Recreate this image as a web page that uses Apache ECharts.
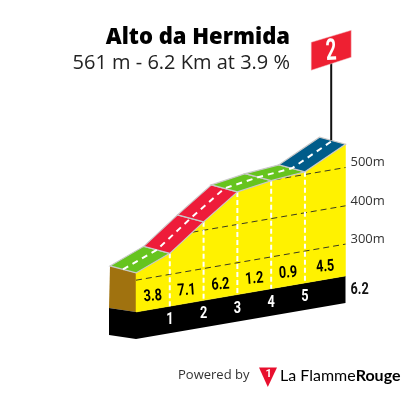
<!DOCTYPE html>
<html><head><meta charset="utf-8">
<style>html,body{margin:0;padding:0;background:#fff}#c{width:405px;height:393px}</style>
<script src="https://cdn.jsdelivr.net/npm/echarts@6/dist/echarts.min.js"></script>
</head><body><div id="c"></div>
<script>
// ---- data ----
const climbName = 'Alto da Hermida';
const climbStats = '561 m - 6.2 Km at 3.9 %';
const kmMarks = [0, 1, 2, 3, 4, 5, 6.2];
const elevations = [319, 355, 422, 485, 499, 507, 561];
const gradients = [3.8, 7.1, 6.2, 1.2, 0.9, 4.5];
const roadColors = ['#66c41e', '#ee1c3a', '#ee1c3a', '#66c41e', '#66c41e', '#005c8a'];
const gridElevations = [300, 400, 500];
const gridLabels = ['300m', '400m', '500m'];
const kmLabels = ['1', '2', '3', '4', '5'];
const totalLabel = '6.2';
const categoryLabel = '2';

// ---- projection ----
const BASE = 217;          // elevation of the yellow base at km 0
const SHEAR = 15.2;        // metres of apparent rise per km (oblique view)
const DEPTH = [-26, -7];   // road depth in px
const SIDE_DEPTH = [-27, -4];
const BAND = 27;           // black band height in px
const COND = 'bold 16.5px Roboto,sans-serif';
const COND_SX = 0.77;
const OPEN = '"Open Sans","Noto Sans",sans-serif';

const P = (api, km, el) => api.coord([km, el + km * SHEAR]);
const firstKmAbove = el => {
  if (elevations[0] >= el) return 0;
  for (let i = 0; i < kmMarks.length - 1; i++) {
    if (elevations[i + 1] >= el) {
      return kmMarks[i] + (el - elevations[i]) / (elevations[i + 1] - elevations[i]) * (kmMarks[i + 1] - kmMarks[i]);
    }
  }
  return kmMarks[kmMarks.length - 1];
};
const off = (p, d, f) => [p[0] + d[0] * (f === undefined ? 1 : f), p[1] + d[1] * (f === undefined ? 1 : f)];
const last = kmMarks.length - 1;

const segments = gradients.map((g, i) => [kmMarks[i], kmMarks[i + 1], elevations[i], elevations[i + 1], g, i]);

const noSilent = { animation: false, silent: true, coordinateSystem: 'cartesian2d' };

const condText = (x, y, text, fill, align, rotation) => ({
  type: 'text', x, y, rotation: rotation || 0, scaleX: COND_SX,
  style: { x: 0, y: 0, text, font: COND, fill, align: align || 'center', verticalAlign: 'middle' }
});

const option = {
  animation: false,
  title: [
    { text: climbName, right: 115, top: 23, padding: 0, textStyle: { fontFamily: OPEN, fontWeight: 800, fontSize: 22, color: '#000', lineHeight: 30 } },
    { text: climbStats, right: 115, top: 50, padding: 0, textStyle: { fontFamily: OPEN, fontWeight: 400, fontSize: 20, color: '#222', lineHeight: 26 } }
  ],
  grid: { left: 136, top: 145, width: 209.5, height: 167 },
  xAxis: { type: 'value', min: 0, max: 6.2, show: false },
  yAxis: { type: 'value', min: BASE, max: 653, show: false },
  series: [
    // side wall and black base
    { ...noSilent, type: 'custom', z: 1, data: [[0, elevations[0], kmMarks[last]]],
      renderItem(params, api) {
        const tl = P(api, 0, elevations[0]), bl = P(api, 0, BASE), br = P(api, kmMarks[last], BASE);
        const tb = off(tl, DEPTH), bb = off(bl, SIDE_DEPTH);
        return { type: 'group', children: [
          { type: 'polygon', shape: { points: [tb, tl, bl, bb] }, style: { fill: '#a0720f' } },
          { type: 'polygon', shape: { points: [bb, bl, br, [br[0], br[1] + BAND], [bl[0], bl[1] + BAND], [bb[0], bb[1] + BAND]] }, style: { fill: '#000' } }
        ] };
      } },
    // yellow body per segment
    { ...noSilent, type: 'custom', z: 2, data: segments,
      renderItem(params, api) {
        const a = api.value(0), b = api.value(1), ea = api.value(2), eb = api.value(3);
        return { type: 'polygon', shape: { points: [P(api, a, ea), P(api, b, eb), P(api, b, BASE), P(api, a, BASE)] }, style: { fill: '#fff200', stroke: '#fff200', lineWidth: 0.5 } };
      } },
    // elevation gridlines
    { ...noSilent, type: 'custom', z: 3, data: gridElevations.map((e, i) => [e, i]),
      renderItem(params, api) {
        const e = api.value(0), s = P(api, firstKmAbove(e), e), t = P(api, kmMarks[last], e);
        return { type: 'group', children: [
          { type: 'line', shape: { x1: s[0], y1: s[1], x2: t[0], y2: t[1] }, style: { stroke: '#3a3a20', lineWidth: 1, lineDash: [6, 4] } },
          { type: 'text', style: { x: t[0] + 5, y: t[1] - 5, text: gridLabels[api.value(1)], font: '13px ' + OPEN, fill: '#333', align: 'left', verticalAlign: 'middle' } }
        ] };
      } },
    // km separators and km labels
    { ...noSilent, type: 'custom', z: 4, data: kmLabels.map((l, i) => [kmMarks[i + 1], elevations[i + 1], i]),
      renderItem(params, api) {
        const k = api.value(0), top = P(api, k, api.value(1)), g = P(api, k, BASE);
        return { type: 'group', children: [
          { type: 'line', shape: { x1: top[0], y1: top[1], x2: g[0], y2: g[1] }, style: { stroke: '#fff', lineWidth: 2, lineDash: [5, 3] } },
          condText(g[0], g[1] + 14, kmLabels[api.value(2)], '#fff')
        ] };
      } },
    // gradient labels
    { ...noSilent, type: 'custom', z: 5, data: segments,
      renderItem(params, api) {
        const m = (api.value(0) + api.value(1)) / 2, g = P(api, m, BASE);
        return condText(g[0], g[1] - 12.5, api.value(4).toFixed(1), '#000', 'center', 0.07);
      } },
    // road tiles
    { ...noSilent, type: 'custom', z: 6, data: segments,
      renderItem(params, api) {
        const a = P(api, api.value(0), api.value(2)), b = P(api, api.value(1), api.value(3));
        return { type: 'polygon', shape: { points: [off(a, DEPTH), off(b, DEPTH), b, a] }, style: { fill: roadColors[api.value(5)], stroke: '#c9c9c9', lineWidth: 1.2 } };
      } },
    // road centre line, flag and total length
    { ...noSilent, type: 'custom', z: 7, data: [[kmMarks[last], elevations[last]]],
      renderItem(params, api) {
        const pts = kmMarks.map((k, i) => off(P(api, k, elevations[i]), DEPTH, 0.5));
        const end = P(api, kmMarks[last], elevations[last]), pole = off(end, DEPTH, 0.55), g = P(api, kmMarks[last], BASE);
        const topY = pole[1] - 78, fx = pole[0];
        return { type: 'group', children: [
          { type: 'polyline', shape: { points: pts }, style: { fill: 'none', stroke: '#fff', lineWidth: 2, lineDash: [6, 5] } },
          { type: 'line', shape: { x1: fx, y1: pole[1], x2: fx, y2: topY }, style: { stroke: '#111', lineWidth: 2 } },
          { type: 'polygon', shape: { points: [[fx - 20, topY - 20], [fx + 20, topY - 32], [fx + 20, topY - 5], [fx - 20, topY + 8]] }, style: { fill: '#ee2032', stroke: '#f4c2c6', lineWidth: 0.5 } },
          { type: 'text', x: fx, y: topY - 10, rotation: 0.05, scaleX: 0.62, style: { x: 0, y: 0, text: categoryLabel, font: 'bold 30px Roboto,sans-serif', fill: '#fff', align: 'center', verticalAlign: 'middle' } },
          condText(g[0] + 5, g[1] + 14, totalLabel, '#111', 'left')
        ] };
      } }
  ],
  graphic: [
    { type: 'text', silent: true, left: 178, top: 369, style: { text: 'Powered by', font: '13px ' + OPEN, fill: '#333' } },
    { type: 'polygon', silent: true, shape: { points: [[259, 367.5], [277, 367.5], [267.8, 387]] }, style: { fill: '#e8102e' } },
    { type: 'text', silent: true, left: 265.5, top: 369, style: { text: '1', font: 'bold 11px Roboto,sans-serif', fill: '#fff' } },
    { type: 'text', silent: true, left: 280, top: 368, style: { rich: {
        a: { fontFamily: 'Lato', fontSize: 16, fontWeight: 400, color: '#222' },
        b: { fontFamily: 'Lato', fontSize: 16, fontWeight: 700, color: '#222' } },
        text: '{a|La Flamme}{b|Rouge}' } }
  ]
};
const chart = echarts.init(document.getElementById('c'), null, { renderer: 'canvas' });
chart.setOption(option);
</script></body></html>
